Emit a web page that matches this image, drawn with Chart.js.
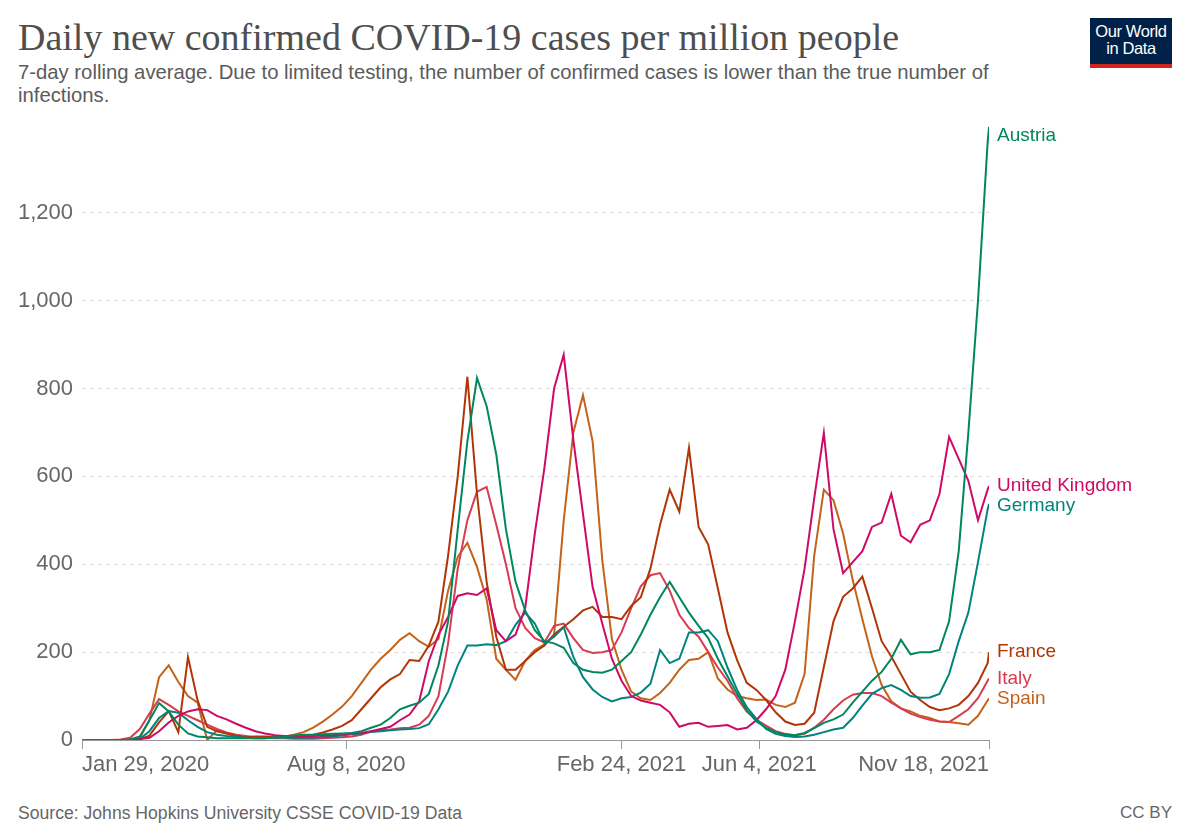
<!DOCTYPE html>
<html>
<head>
<meta charset="utf-8">
<title>Daily new confirmed COVID-19 cases per million people</title>
<script src="https://cdn.jsdelivr.net/npm/chart.js@4.4.1/dist/chart.umd.min.js"></script>
<style>
  html, body { margin: 0; padding: 0; background: #fff; }
  body { width: 1200px; height: 829px; position: relative; overflow: hidden;
         font-family: "Liberation Sans", Arial, sans-serif; }
  #title { position: absolute; left: 18px; top: 18px; font-family: "Liberation Serif", "Times New Roman", serif;
           font-size: 38px; line-height: 38px; color: #4e4e4e; white-space: nowrap; }
  #subtitle { position: absolute; left: 18px; top: 61px; width: 1010px; font-size: 20.3px; line-height: 23px; color: #5b5b5b; }
  #logo { position: absolute; left: 1090px; top: 18px; width: 82px; height: 50px; background: #002147;
          border-bottom: 4px solid #ce261e; box-sizing: border-box; color: #fff; text-align: center;
          font-size: 16.5px; line-height: 17px; padding-top: 5px; letter-spacing: -0.4px; }
  #source { position: absolute; left: 18px; top: 804px; font-size: 17.6px; line-height: 18px; color: #666; }
  #license { position: absolute; right: 28px; top: 804px; font-size: 17px; line-height: 18px; color: #666; }
  #wrap { position: absolute; left: 0; top: 0; width: 1200px; height: 829px; }
</style>
</head>
<body>
<div id="title">Daily new confirmed COVID-19 cases per million people</div>
<div id="subtitle">7-day rolling average. Due to limited testing, the number of confirmed cases is lower than the true number of infections.</div>
<div id="logo">Our World<br>in Data</div>
<div id="source">Source: Johns Hopkins University CSSE COVID-19 Data</div>
<div id="license">CC BY</div>
<div id="wrap"><canvas id="myChart"></canvas></div>

<script>
// weekly samples, day 0 = Jan 29, 2020, last day = Nov 18, 2021 (day 659)
let days = [];
for (let i = 0; i <= 94; i++) days.push(i * 7);
days.push(659);

let tickDays = [0, 192, 392, 492, 659];
let tickLabels = ['Jan 29, 2020', 'Aug 8, 2020', 'Feb 24, 2021', 'Jun 4, 2021', 'Nov 18, 2021'];
let yTicks = [0, 200, 400, 600, 800, 1000, 1200];

let countries = ['Austria', 'United Kingdom', 'Germany', 'France', 'Italy', 'Spain'];
let colors = ['#00875e', '#cf0a66', '#00847e', '#b13507', '#d73c50', '#c4621a'];

let austria = [0,0,0,0,0,1,8,45,84,65,
  35,15,8,6,4,4,4,4,4,4,
  5,8,10,12,12,13,14,15,16,20,
  28,35,50,70,78,85,105,170,270,480,
  680,824,760,650,480,360,295,250,225,220,
  210,175,160,155,153,160,180,200,240,285,
  325,360,325,290,260,232,185,145,105,68,
  42,28,18,12,11,16,27,39,47,58,
  85,110,135,155,185,228,195,200,200,205,
  270,430,700,1000,1360,1396];

let unitedKingdom = [0,0,0,0,0,0,2,5,20,40,
  55,65,70,68,55,47,37,28,20,15,
  11,9,7,8,9,10,11,13,15,16,
  20,25,30,45,58,88,180,240,280,328,
  334,330,345,250,225,240,300,470,620,800,
  877,683,515,348,265,185,135,100,90,85,
  80,63,30,37,39,30,32,34,24,28,
  45,70,100,160,270,390,550,699,480,380,
  405,430,485,495,560,465,450,490,500,560,
  690,640,590,500,570,578];

let germany = [0,0,0,0,0,0,3,20,50,66,
  62,45,30,18,12,9,7,5,4,4,
  6,5,5,5,5,7,8,10,13,15,
  18,20,22,24,25,27,36,70,110,170,
  215,215,218,216,225,262,290,265,220,235,
  257,189,143,115,98,88,95,98,108,128,
  205,175,185,245,245,250,225,165,114,75,
  48,25,14,9,7,8,12,18,24,28,
  50,78,105,118,125,114,100,96,97,105,
  150,225,290,405,525,537];

let france = [0,0,0,0,0,0,2,10,40,66,
  18,189,90,30,20,15,10,6,8,8,
  7,8,9,10,12,17,24,32,45,70,
  95,120,138,150,182,180,215,270,420,600,
  827,560,360,235,160,160,180,200,215,240,
  258,275,295,303,280,280,275,305,325,390,
  490,570,520,665,485,445,345,245,182,130,
  114,91,63,42,34,37,62,166,270,326,
  345,372,300,225,190,150,110,91,75,68,
  72,80,100,130,175,200];

let italy = [0,0,0,0,1,5,25,60,93,80,
  65,55,45,35,25,17,12,9,6,5,
  4,4,3,3,3,4,5,6,8,12,
  20,22,24,27,28,35,55,100,220,390,
  500,565,576,490,400,300,255,232,222,260,
  265,232,205,198,200,205,245,300,350,375,
  380,340,285,255,235,200,165,135,95,65,
  46,33,20,14,11,14,28,46,70,90,
  103,107,107,100,85,72,60,52,46,42,
  41,55,70,95,135,140];

let spain = [0,0,0,0,0,1,5,45,143,170,
  132,100,85,0,22,15,8,5,6,6,
  7,8,12,18,28,42,58,76,100,130,
  160,185,205,228,243,225,212,230,340,417,
  449,394,320,185,160,137,180,205,218,238,
  500,700,785,680,410,230,160,110,95,91,
  107,130,160,182,185,200,140,115,100,95,
  91,92,80,75,85,150,420,570,546,470,
  364,275,190,125,88,72,65,55,50,42,
  41,38,35,55,90,95];

let series = [austria, unitedKingdom, germany, france, italy, spain];

let fontFamily = '"Liberation Sans", Arial, sans-serif';
Chart.defaults.font.family = fontFamily;

// country names at the end of each line
let endLabels = {
  id: 'endLabels',
  afterDatasetsDraw(chart) {
    let ctx = chart.ctx;
    let area = chart.chartArea;
    let items = chart.data.datasets.map((ds, i) => {
      let meta = chart.getDatasetMeta(i);
      let pt = meta.data[meta.data.length - 1];
      return { text: ds.label, color: ds.borderColor, y: Math.max(pt.y, area.top + 11) };
    }).sort((a, b) => a.y - b.y);
    for (let i = 1; i < items.length; i++) {
      if (items[i].y - items[i - 1].y < 20) items[i].y = items[i - 1].y + 20;
    }
    ctx.save();
    ctx.font = '19px ' + fontFamily;
    ctx.textBaseline = 'middle';
    ctx.textAlign = 'left';
    items.forEach(it => {
      ctx.fillStyle = it.color;
      ctx.fillText(it.text, area.right + 8, it.y);
    });
    ctx.restore();
  }
};

let chart = new Chart(document.getElementById('myChart').getContext('2d'), {
  type: 'line',
  data: {
    datasets: countries.map((name, i) => ({
      label: name,
      data: series[i].map((v, j) => ({ x: days[j], y: v })),
      borderColor: colors[i],
      backgroundColor: colors[i],
      borderWidth: 2,
      pointRadius: 0,
      tension: 0,
      fill: false
    }))
  },
  options: {
    responsive: true,
    maintainAspectRatio: false,
    animation: false,
    layout: { padding: { top: 125, right: 211, bottom: 39, left: 0 } },
    plugins: {
      legend: { display: false },
      tooltip: { enabled: false }
    },
    scales: {
      x: {
        type: 'linear',
        min: 0,
        max: 659,
        afterBuildTicks: s => { s.ticks = tickDays.map(v => ({ value: v })); },
        afterFit: s => { s.height = 50; },
        ticks: {
          color: '#666',
          font: { size: 22 },
          align: 'inner',
          padding: 3,
          maxRotation: 0,
          autoSkip: false,
          callback: (v, i) => tickLabels[i]
        },
        grid: { drawOnChartArea: false, drawTicks: true, tickLength: 9, color: '#999' },
        border: { display: true, color: '#999' }
      },
      y: {
        min: 0,
        max: 1400,
        afterBuildTicks: s => { s.ticks = yTicks.map(v => ({ value: v })); },
        afterFit: s => { s.width = 82; },
        ticks: {
          color: '#666',
          font: { size: 22 },
          padding: 9,
          callback: v => v.toLocaleString('en-US')
        },
        grid: { color: '#dcdcdc', drawTicks: false },
        border: { display: false, dash: [4, 4] }
      }
    }
  },
  plugins: [endLabels]
});
</script>
</body>
</html>
